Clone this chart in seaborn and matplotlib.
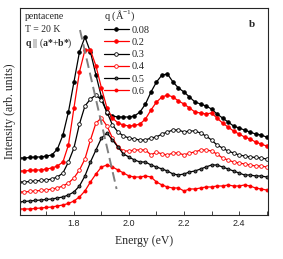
import numpy as np
import pandas as pd
import matplotlib
matplotlib.use('Agg')
import matplotlib.pyplot as plt
import seaborn as sns
from matplotlib.ticker import MultipleLocator, NullLocator

# energy grid (eV) and spectra (arb. units, offset stacked)
energy = np.round(np.arange(1.60, 2.501, 0.02), 2)

i_008 = [57, 57, 57.5, 58, 58, 59, 60, 66, 80, 103, 133, 163, 178, 163, 140, 118, 102, 99, 98, 98,
         98, 99, 103, 111, 123, 133, 140, 141, 133, 127, 123, 118, 113, 111, 109, 106, 101, 97, 93, 89,
         87, 85, 83, 81, 80, 78]
i_02 = [44, 44, 44.5, 45, 45, 46, 47, 49, 53, 70, 107, 143, 165, 165, 149, 127, 107, 97, 92, 90,
        89, 89.5, 91, 96, 105, 113, 118, 120, 118, 114, 111, 107, 103, 102, 101, 102, 97, 92, 88, 84,
        81, 78, 76, 73, 71, 69]
i_03 = [33, 33, 33.5, 34, 34.5, 35, 36, 38, 42, 53, 67, 91, 109, 116, 120, 115, 103, 90, 83, 79,
        77, 76, 75, 75, 77, 78, 81, 83, 85, 85, 83, 84, 84, 82, 79, 75, 70, 67, 64, 62,
        60, 59, 58, 57.5, 57, 56]
i_04 = [23, 23, 23.5, 24, 24.5, 25, 26, 27, 29, 32, 37, 45, 56, 75, 92, 97, 89, 77, 68, 64,
        64, 65, 65, 65, 60, 63, 61, 60, 62, 62, 60, 62, 63, 65, 65, 64, 61, 57, 55, 53,
        52, 51, 50, 49, 49, 48]
i_05 = [13, 13.5, 14, 14.5, 15, 15.5, 16, 17, 18, 20, 23, 29, 39, 53, 65, 77, 82, 75, 68, 61,
        58, 55, 53, 53, 50, 48, 46, 44, 41, 40, 41, 43, 44, 46, 48, 50, 50, 48, 46, 44,
        42, 40, 40, 39, 39, 38]
i_06 = [6, 6, 6, 6.5, 7, 7.5, 8, 9, 10, 11.5, 14, 18, 24, 33, 41, 48, 50, 48, 45, 42,
        39, 38, 38, 39, 38, 33, 30, 28, 27, 27, 24, 26, 26, 27, 28, 28, 29, 29, 30, 29,
        29, 30, 29, 27, 26, 25]

q_labels = ['0.08', '0.2', '0.3', '0.4', '0.5', '0.6']
spectra = [i_008, i_02, i_03, i_04, i_05, i_06]

# dispersion guide (dashed)
disp_x = [1.822, 1.955]
disp_y = [185, 26]

df = pd.DataFrame({
    'energy': np.tile(energy, len(q_labels)),
    'intensity': np.concatenate(spectra),
    'q': np.repeat(q_labels, len(energy)),
})

sns.set_style('ticks')
plt.rcParams['font.family'] = ['Liberation Serif', 'DejaVu Serif']
plt.rcParams['mathtext.fontset'] = 'custom'
plt.rcParams['mathtext.rm'] = 'Liberation Serif'
plt.rcParams['mathtext.bf'] = 'Liberation Serif:bold'

fig = plt.figure(figsize=(2.83, 2.59), dpi=100)
ax = fig.add_axes([0.0707, 0.17, 0.876, 0.799])

styles = {
    '0.08': dict(color='black', markerfacecolor='black', markersize=2.6),
    '0.2': dict(color='red', markerfacecolor='red', markersize=2.6),
    '0.3': dict(color='black', markerfacecolor='white', markersize=2.6),
    '0.4': dict(color='red', markerfacecolor='white', markersize=2.6),
    '0.5': dict(color='black', markerfacecolor='#555555', markersize=2.2),
    '0.6': dict(color='red', markerfacecolor='red', markersize=2.2),
}

for q in q_labels:
    st = styles[q]
    sns.lineplot(data=df[df['q'] == q], x='energy', y='intensity', ax=ax,
                 color=st['color'], marker='o', markersize=st['markersize'],
                 markerfacecolor=st['markerfacecolor'], markeredgecolor=st['color'],
                 markeredgewidth=0.6, linewidth=0.9, label=q)

ax.plot(disp_x, disp_y, color='gray', linestyle=(0, (5, 2.5)), linewidth=1.4)

ax.set_xlim(1.604, 2.505)
ax.set_ylim(0, 207)
ax.xaxis.set_major_locator(MultipleLocator(0.2))
ax.xaxis.set_minor_locator(MultipleLocator(0.1))
ax.yaxis.set_major_locator(NullLocator())
ax.tick_params(axis='x', which='both', direction='in', top=False, length=3, width=0.6)
ax.tick_params(axis='x', which='major', labelsize=6.5, pad=3)
for lbl in ax.get_xticklabels():
    lbl.set_fontfamily('Liberation Sans')
for sp in ax.spines.values():
    sp.set_visible(True)
    sp.set_linewidth(0.8)

ax.set_xlabel('Energy (eV)', fontsize=8.5, labelpad=5)
ax.set_ylabel('Intensity (arb. units)', fontsize=8.5, labelpad=3)

leg = ax.legend(title='q (Å$^{-1}$)', loc='upper left', bbox_to_anchor=(0.32, 1.02),
                frameon=False, fontsize=7.5, title_fontsize=7.5, handlelength=2.4,
                handletextpad=0.3, labelspacing=0.28, borderaxespad=0, numpoints=1)
leg._legend_box.align = 'left'

ax.text(0.02, 0.96, 'pentacene', transform=ax.transAxes, fontsize=7, va='center')
ax.text(0.02, 0.894, 'T = 20 K', transform=ax.transAxes, fontsize=7, va='center')
ax.text(0.02, 0.831, r'$\mathbf{q}$ || ($\mathbf{a{*}}$+$\mathbf{b{*}}$)', transform=ax.transAxes,
        fontsize=7, va='center')
ax.text(0.925, 0.918, 'b', transform=ax.transAxes, fontsize=8, fontweight='bold', va='center')

fig.savefig('out.png', dpi=100)
